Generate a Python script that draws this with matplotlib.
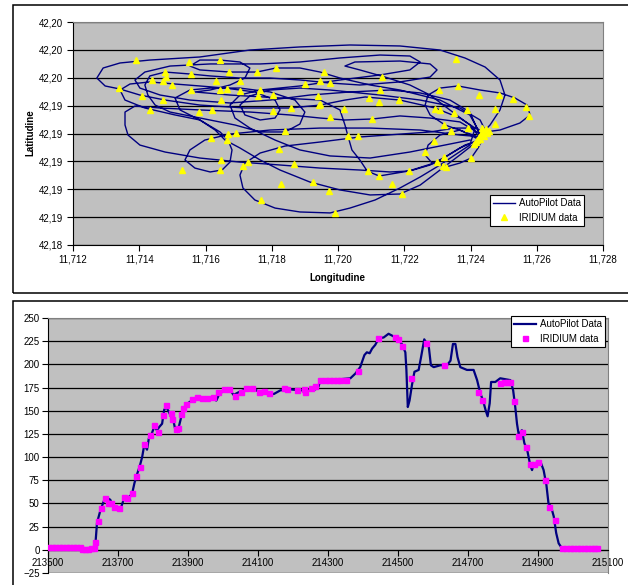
import matplotlib
matplotlib.use('Agg')
import matplotlib.pyplot as plt
from matplotlib.ticker import FuncFormatter
from matplotlib.patches import Rectangle

plt.rcParams['font.family'] = ['Liberation Sans', 'DejaVu Sans']
plt.rcParams['font.size'] = 7

# ---- top chart: autopilot track (lon/lat) ----
route_lon = [
    11.72429, 11.72459, 11.72489, 11.72504, 11.72489, 11.72444, 11.72383, 11.72308, 11.72187, 11.72036, 11.71885,
    11.71734, 11.71583, 11.71432, 11.71342, 11.71291, 11.71272, 11.71297, 11.71342, 11.71402, 11.71478, 11.71583,
    11.71719, 11.71855, 11.71946, 11.72021, 11.72082, 11.72187, 11.72293, 11.72368, 11.72414,
    11.72398, 11.72353, 11.72308, 11.72248, 11.72187, 11.72112, 11.72036, 11.71976, 11.71885, 11.71810, 11.71749,
    11.71713, 11.71704, 11.71719, 11.71765, 11.71840, 11.71946, 11.72066, 11.72187, 11.72278, 11.72353, 11.72414, 11.72444,
    11.72489, 11.72549, 11.72580, 11.72571, 11.72534, 11.72489, 11.72429, 11.72362, 11.72308, 11.72272, 11.72263,
    11.72278, 11.72323, 11.72383, 11.72429,
    11.72398, 11.72338, 11.72278, 11.72217, 11.72142, 11.72066, 11.72021, 11.72051, 11.72187, 11.72278, 11.72299,
    11.72278, 11.72187, 11.72066, 11.71976, 11.71885, 11.71795, 11.71704, 11.71614, 11.71553, 11.71478, 11.71432,
    11.71417, 11.71426, 11.71448, 11.71493, 11.71583, 11.71689, 11.71765, 11.71840, 11.71885, 11.71900, 11.71870,
    11.71795, 11.71704, 11.71614, 11.71553, 11.71508, 11.71523, 11.71583, 11.71629, 11.71659, 11.71704, 11.71765,
    11.71825, 11.71915, 11.72006, 11.72097, 11.72187, 11.72248, 11.72308, 11.72368, 11.72414, 11.72435,
    11.72368, 11.72278, 11.72187, 11.72103, 11.72021, 11.71946, 11.71855, 11.71734, 11.71583, 11.71463, 11.71387,
    11.71357, 11.71357, 11.71366, 11.71402, 11.71478, 11.71583, 11.71704, 11.71825, 11.71946, 11.72066, 11.72157,
    11.72217, 11.72278, 11.72323, 11.72368, 11.72423,
    11.72444, 11.72429, 11.72368, 11.72248, 11.72127, 11.71976, 11.71885, 11.71795, 11.71734, 11.71704, 11.71719,
    11.71765, 11.71810, 11.71825, 11.71810, 11.71749, 11.71659, 11.71583, 11.71508, 11.71432, 11.71372, 11.71342,
    11.71357, 11.71417, 11.71508, 11.71583, 11.71644, 11.71668, 11.71680, 11.71674, 11.71650, 11.71614, 11.71568,
    11.71538, 11.71553, 11.71598, 11.71674, 11.71795, 11.71946, 11.72097, 11.72248, 11.72368, 11.72435,
    11.72398, 11.72308, 11.72187, 11.72097, 11.72006, 11.71946, 11.71885, 11.71813, 11.71755, 11.71674, 11.71583,
    11.71553, 11.71583, 11.71644, 11.71704, 11.71734, 11.71719, 11.71674, 11.71614, 11.71568, 11.71674, 11.71825,
    11.71946, 11.72006, 11.72021, 11.72030, 11.72042, 11.72066, 11.72088, 11.72124, 11.72214, 11.72299, 11.72383, 11.72429,
    11.72368, 11.72308, 11.72272, 11.72263, 11.72284, 11.72326, 11.72368, 11.72402, 11.72423, 11.72435,
    11.72398, 11.72338, 11.72248, 11.72157, 11.72036, 11.71915, 11.71795, 11.71674, 11.71553, 11.71463, 11.71402,
    11.71387, 11.71417, 11.71493, 11.71614, 11.71765, 11.71885, 11.72006, 11.72127, 11.72217, 11.72248, 11.72217,
    11.72127, 11.72006, 11.71885, 11.71765, 11.71704, 11.71674, 11.71689, 11.71734, 11.71810, 11.71885, 11.71976,
    11.72097, 11.72217, 11.72323, 11.72398,
]
route_lat = [
    42.19189, 42.19261, 42.19369, 42.19476, 42.19584, 42.19677, 42.19742, 42.19799, 42.19828, 42.19835, 42.19821,
    42.19799, 42.19749, 42.19727, 42.19706, 42.19670, 42.19598, 42.19541, 42.19519, 42.19476, 42.19440, 42.19404,
    42.19383, 42.19383, 42.19404, 42.19440, 42.19462, 42.19440, 42.19383, 42.19311, 42.19239,
    42.19117, 42.19046, 42.18974, 42.18888, 42.18809, 42.18723, 42.18665, 42.18630, 42.18637, 42.18665, 42.18723,
    42.18809, 42.18902, 42.18988, 42.19060, 42.19110, 42.19139, 42.19175, 42.19196, 42.19211, 42.19239, 42.19239, 42.19211,
    42.19225, 42.19275, 42.19333, 42.19404, 42.19455, 42.19491, 42.19512, 42.19541, 42.19526, 42.19476, 42.19404,
    42.19333, 42.19261, 42.19211, 42.19168,
    42.19261, 42.19369, 42.19476, 42.19548, 42.19605, 42.19656, 42.19684, 42.19713, 42.19720, 42.19699, 42.19656,
    42.19605, 42.19570, 42.19548, 42.19562, 42.19584, 42.19598, 42.19598, 42.19613, 42.19627, 42.19641, 42.19613,
    42.19548, 42.19476, 42.19404, 42.19354, 42.19311, 42.19261, 42.19211, 42.19211, 42.19268, 42.19354, 42.19440,
    42.19498, 42.19526, 42.19526, 42.19512, 42.19455, 42.19369, 42.19297, 42.19225, 42.19153, 42.19096, 42.19010,
    42.18938, 42.18852, 42.18795, 42.18759, 42.18766, 42.18830, 42.18938, 42.19046, 42.19132, 42.19189,
    42.19283, 42.19311, 42.19326, 42.19304, 42.19297, 42.19311, 42.19333, 42.19354, 42.19369, 42.19383, 42.19397,
    42.19354, 42.19261, 42.19189, 42.19117, 42.19067, 42.19024, 42.18995, 42.18974, 42.18952, 42.18938, 42.18924,
    42.18931, 42.18974, 42.19031, 42.19096, 42.19153,
    42.19225, 42.19297, 42.19383, 42.19440, 42.19476, 42.19512, 42.19526, 42.19512, 42.19469, 42.19404, 42.19333,
    42.19297, 42.19311, 42.19369, 42.19440, 42.19498, 42.19526, 42.19541, 42.19555, 42.19570, 42.19555, 42.19512,
    42.19440, 42.19383, 42.19333, 42.19297, 42.19211, 42.19153, 42.19082, 42.18995, 42.18938, 42.18924, 42.18952,
    42.19010, 42.19082, 42.19153, 42.19196, 42.19225, 42.19239, 42.19239, 42.19225, 42.19189, 42.19175,
    42.19333, 42.19440, 42.19512, 42.19548, 42.19598, 42.19641, 42.19670, 42.19670, 42.19641, 42.19641, 42.19656,
    42.19684, 42.19727, 42.19727, 42.19713, 42.19670, 42.19598, 42.19548, 42.19512, 42.19498, 42.19476, 42.19455,
    42.19440, 42.19369, 42.19261, 42.19182, 42.19082, 42.19010, 42.18931, 42.18895, 42.18931, 42.18995, 42.19117, 42.19153,
    42.19225, 42.19189, 42.19117, 42.19046, 42.18988, 42.18960, 42.18988, 42.19024, 42.19096, 42.19153,
    42.19354, 42.19440, 42.19491, 42.19512, 42.19498, 42.19476, 42.19440, 42.19419, 42.19440, 42.19476, 42.19526,
    42.19584, 42.19641, 42.19684, 42.19699, 42.19699, 42.19713, 42.19742, 42.19763, 42.19756, 42.19713, 42.19656,
    42.19620, 42.19584, 42.19541, 42.19512, 42.19476, 42.19404, 42.19311, 42.19239, 42.19153, 42.19082, 42.19039,
    42.19024, 42.19067, 42.19117, 42.19153,
]

# iridium fixes (top chart)
sat_lon = [
    11.71390, 11.71550, 11.71644, 11.71813, 11.71478, 11.71556, 11.71671, 11.71756, 11.71439, 11.71472, 11.71481,
    11.71499, 11.71632, 11.71704, 11.71901, 11.71339, 11.71556, 11.71644, 11.71665, 11.71704, 11.71765, 11.71408,
    11.71472, 11.71647, 11.71759, 11.71804, 11.71940, 11.71433, 11.71581, 11.71620, 11.71804, 11.71858, 11.71943,
    11.71668, 11.71692, 11.71617, 11.71665, 11.71840, 11.71822, 11.71647, 11.71729, 11.71713, 11.71867, 11.71529,
    11.71644, 11.71828, 11.71925, 11.71768, 11.72357, 11.71958, 11.72133, 11.71946, 11.71976, 11.72127, 11.72305,
    11.72363, 11.72094, 11.72124, 11.72185, 11.72426, 11.72487, 11.72529, 11.71946, 11.72018, 11.72293, 11.72308,
    11.72390, 11.72474, 11.72568, 11.72577, 11.71976, 11.72103, 11.72351, 11.72320, 11.72342, 11.72393, 11.72474,
    11.72031, 11.72061, 11.72290, 11.72263, 11.72320, 11.72402, 11.72299, 11.72317, 11.72326, 11.72091, 11.72124,
    11.72215, 11.71973, 11.72163, 11.72194, 11.71991,
    11.72411, 11.72420, 11.72426, 11.72432, 11.72438, 11.72447, 11.72441, 11.72450, 11.72417, 11.72429, 11.72435, 11.72456,
]
sat_lat = [
    42.19728, 42.19713, 42.19728, 42.19670, 42.19642, 42.19627, 42.19642, 42.19642, 42.19584, 42.19577, 42.19606,
    42.19548, 42.19577, 42.19577, 42.19555, 42.19527, 42.19512, 42.19512, 42.19520, 42.19505, 42.19512, 42.19469,
    42.19441, 42.19441, 42.19469, 42.19477, 42.19469, 42.19369, 42.19355, 42.19369, 42.19362, 42.19383, 42.19405,
    42.19197, 42.19204, 42.19168, 42.19154, 42.19218, 42.19089, 42.19011, 42.18996, 42.18968, 42.18982, 42.18939,
    42.18939, 42.18838, 42.18853, 42.18724, 42.19735, 42.19642, 42.19606, 42.19577, 42.19563, 42.19512, 42.19512,
    42.19541, 42.19455, 42.19426, 42.19441, 42.19477, 42.19477, 42.19448, 42.19412, 42.19376, 42.19376, 42.19369,
    42.19369, 42.19376, 42.19391, 42.19326, 42.19319, 42.19305, 42.19348, 42.19262, 42.19218, 42.19240, 42.19269,
    42.19183, 42.19183, 42.19147, 42.19068, 42.19032, 42.19025, 42.18996, 42.18968, 42.18960, 42.18932, 42.18896,
    42.18932, 42.18788, 42.18838, 42.18767, 42.18631,
    42.19125, 42.19154, 42.19175, 42.19197, 42.19218, 42.19233, 42.19183, 42.19204, 42.19140, 42.19161, 42.19240, 42.19218,
]

lon_ticks = [11.712, 11.714, 11.716, 11.718, 11.720, 11.722, 11.724, 11.726, 11.728]
lat_ticks = [42.184, 42.186, 42.188, 42.190, 42.192, 42.194, 42.196, 42.198, 42.200]

# ---- bottom chart: altitude profile ----
auto_x = [213500, 213530, 213560, 213590, 213600, 213615, 213630, 213635, 213640, 213650, 213661, 213669, 213678,
          213688, 213702, 213709, 213716, 213728, 213740, 213747, 213754, 213762, 213769, 213775, 213783, 213788,
          213797, 213804, 213811, 213819, 213826, 213832, 213838, 213845, 213851, 213859, 213864, 213870, 213876,
          213883, 213890, 213899, 213911, 213926, 213945, 213964, 213981, 213988, 214002, 214021, 214030, 214045,
          214064, 214088, 214107, 214126, 214145, 214164, 214192, 214221, 214240, 214264, 214273, 214278, 214297,
          214335, 214364, 214378, 214392, 214404, 214411, 214419, 214426, 214435, 214445, 214459, 214473, 214488,
          214502, 214511, 214521, 214524, 214528, 214533, 214540, 214547, 214559, 214566, 214575, 214588, 214594,
          214602, 214621, 214640, 214650, 214657, 214664, 214670, 214678, 214697, 214716, 214726, 214735, 214743,
          214750, 214756, 214762, 214766, 214778, 214792, 214821, 214829, 214835, 214840, 214845, 214854, 214861,
          214869, 214878, 214883, 214888, 214907, 214916, 214924, 214930, 214937, 214945, 214952, 214959, 214966,
          214973, 215000, 215030, 215070]
auto_y = [3, 3, 3, 3, 1, 1, 1, 4, 29, 43, 54, 56, 54,
          45, 43, 46, 54, 56, 60, 72, 81, 90, 100, 113, 108, 120,
          126, 133, 129, 133, 136, 151, 154, 149, 144, 138, 129, 127, 136,
          147, 154, 158, 161, 164, 162, 164, 161, 167, 172, 172, 167, 170,
          173, 174, 169, 170, 168, 172, 173, 172, 172, 173, 176, 183, 183,
          184, 185, 190, 197, 210, 213, 212, 217, 221, 228, 229, 233, 230,
          226, 222, 213, 194, 154, 161, 178, 192, 194, 208, 227, 219, 199,
          197, 199, 199, 204, 222, 222, 208, 197, 194, 194, 183, 169, 161,
          151, 144, 158, 181, 181, 185, 183, 172, 154, 136, 124, 129, 115,
          108, 91, 86, 93, 95, 86, 70, 50, 47, 36, 18, 7, 3,
          2, 2, 2, 2]

iridium_x = [213500, 213510, 213520, 213530, 213540, 213550, 213560, 213570, 213580, 213590,
             213598, 213606, 213613, 213622, 213630,
             213635, 213643, 213650, 213662, 213670, 213681, 213688, 213702, 213716, 213727,
             213740, 213750, 213762, 213775, 213791, 213802, 213813, 213828, 213836, 213850,
             213855, 213867, 213871, 213881, 213887, 213895, 213911, 213926, 213940, 213954,
             213971, 213985, 214002, 214017, 214035, 214050, 214065, 214084, 214102, 214116,
             214130, 214173, 214184, 214211, 214230, 214234, 214250, 214264, 214278, 214292,
             214304, 214315, 214326, 214335, 214350, 214385, 214442, 214492, 214499, 214510,
             214538, 214579, 214630, 214728, 214739, 214790, 214802, 214811, 214821, 214830,
             214842, 214854, 214866, 214876, 214888, 214901, 214920, 214930, 214948,
             214969, 214980, 214990, 215000, 215010, 215020, 215030, 215040, 215050, 215060, 215069]
iridium_y = [3, 3, 3, 3, 3, 3, 3, 3, 3, 3,
             1, 1, 1, 2, 2,
             8, 31, 45, 56, 50, 51, 46, 45, 57, 56,
             61, 80, 89, 114, 124, 135, 127, 145, 156, 148,
             141, 130, 131, 147, 153, 157, 163, 165, 164, 164,
             165, 170, 173, 173, 166, 170, 175, 175, 170, 171,
             169, 174, 173, 172, 173, 170, 175, 177, 183, 183,
             183, 183, 183, 183, 183, 193, 228, 229, 227, 220,
             185, 223, 199, 170, 162, 180, 181, 181, 181, 160,
             123, 127, 111, 93, 93, 95, 75, 46, 32,
             2, 2, 2, 2, 2, 2, 2, 2, 2, 2, 2]

time_ticks = [213500, 213700, 213900, 214100, 214300, 214500, 214700, 214900, 215100]
alt_ticks = [-25, 0, 25, 50, 75, 100, 125, 150, 175, 200, 225, 250]

W, H = 628, 585
fig = plt.figure(figsize=(W / 100, H / 100), dpi=100)

# panel frames
fig.patches.append(Rectangle((13 / W, 1 - 293 / H), 1, 288 / H, transform=fig.transFigure,
                             fill=False, ec='black', lw=1.1))
fig.patches.append(Rectangle((13 / W, -0.05), 1, 0.05 + 1 - 301 / H, transform=fig.transFigure,
                             fill=False, ec='black', lw=1.1))

# ---- top chart ----
ax1 = fig.add_axes([73 / W, 1 - 245 / H, 530 / W, 223 / H])
ax1.set_facecolor('#C0C0C0')
ax1.plot(route_lon, route_lat, color='#000080', lw=1.0, label='AutoPilot Data', zorder=3)
ax1.plot(sat_lon, sat_lat, ls='none', marker='^', ms=5, color='#FFFF00', mec='#FFFF00',
         label='IRIDIUM data', zorder=4)
ax1.set_xlim(11.712, 11.728)
ax1.set_ylim(42.184, 42.200)
ax1.set_xticks(lon_ticks)
ax1.set_yticks(lat_ticks)
ax1.xaxis.set_major_formatter(FuncFormatter(lambda v, p: ('%.3f' % v).replace('.', ',')))
ax1.yaxis.set_major_formatter(FuncFormatter(lambda v, p: ('%.2f' % v).replace('.', ',')))
ax1.yaxis.grid(True, color='black', lw=0.9)
ax1.set_axisbelow(True)
ax1.spines['top'].set_color('#808080')
ax1.spines['right'].set_color('#808080')
ax1.tick_params(direction='out', length=4, width=0.8, labelsize=7, pad=3)
fig.text(337 / W, 1 - 278 / H, 'Longitudine', ha='center', va='center', fontsize=7, fontweight='bold')
fig.text(30 / W, 1 - 133 / H, 'Latitudine', ha='center', va='center', fontsize=7, fontweight='bold',
         rotation=90)
ax1.legend(loc='upper left', bbox_to_anchor=(490 / W, 1 - 195 / H), bbox_transform=fig.transFigure,
           fancybox=False, edgecolor='black', facecolor='white', framealpha=1, fontsize=7,
           borderpad=0.35, handlelength=2.2, handletextpad=0.4, labelspacing=0.45, borderaxespad=0,
           numpoints=1).get_frame().set_linewidth(0.8)

# ---- bottom chart ----
ax2 = fig.add_axes([48 / W, 1 - 573 / H, 560 / W, 255 / H])
ax2.set_facecolor('#C0C0C0')
ax2.plot(auto_x, auto_y, color='#000080', lw=1.6, label='AutoPilot Data', zorder=3)
ax2.plot(iridium_x, iridium_y, ls='none', marker='s', ms=3.6, color='#FF00FF', mec='#FF00FF',
         label='IRIDIUM data', zorder=4)
ax2.set_xlim(213500, 215100)
ax2.set_ylim(-25, 250)
ax2.set_xticks(time_ticks)
ax2.set_yticks(alt_ticks)
ax2.spines['bottom'].set_position(('data', 0))
ax2.yaxis.grid(True, color='black', lw=0.9)
ax2.set_axisbelow(True)
ax2.spines['top'].set_color('#808080')
ax2.spines['right'].set_color('#808080')
ax2.tick_params(direction='out', length=4, width=0.8, labelsize=7, pad=2)
ax2.legend(loc='upper left', bbox_to_anchor=(511 / W, 1 - 316 / H), bbox_transform=fig.transFigure,
           fancybox=False, edgecolor='black', facecolor='white', framealpha=1, fontsize=7,
           borderpad=0.35, handlelength=2.2, handletextpad=0.4, labelspacing=0.45, borderaxespad=0,
           numpoints=1).get_frame().set_linewidth(0.8)

fig.savefig('out.png', dpi=100)
